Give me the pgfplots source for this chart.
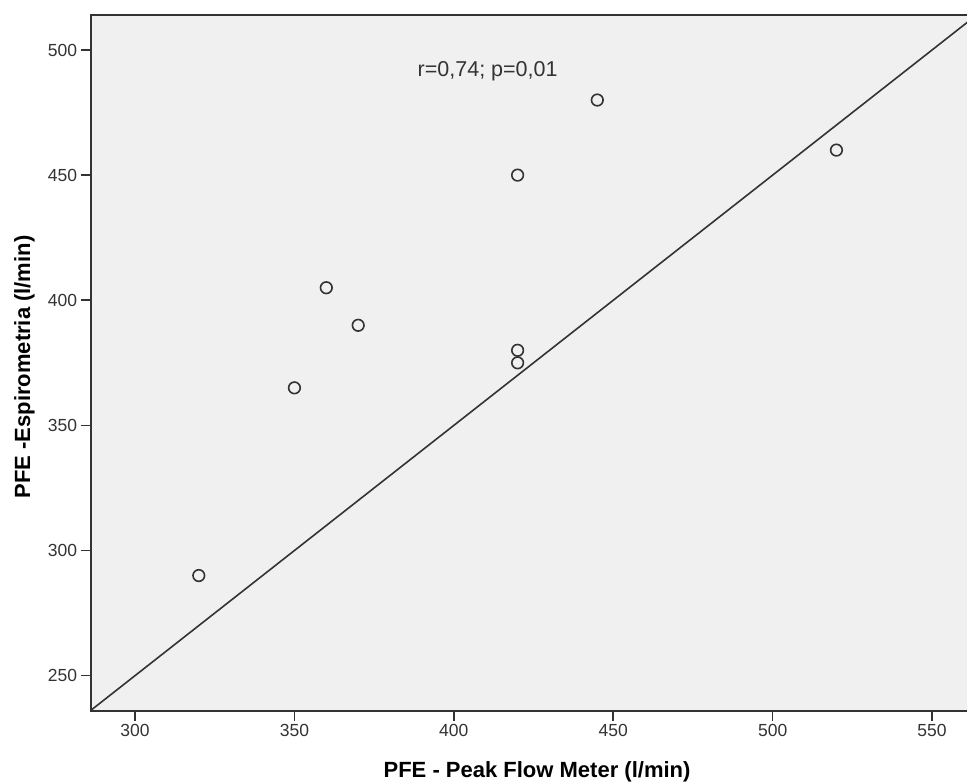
\documentclass[border=0pt]{standalone}
\usepackage{fontspec}
\setmainfont{Liberation Sans}
\usepackage{pgfplots}
\pgfplotsset{compat=1.18}
\definecolor{bgc}{HTML}{F0F0F0}
\definecolor{dk}{HTML}{333333}
\begin{document}
\begin{tikzpicture}
\path[use as bounding box] (0,0) rectangle (967bp,782bp);
\begin{axis}[
 at={(90.7bp,71.3bp)}, anchor=south west,
 scale only axis, width=879.3bp, height=696bp,
 xmin=286.1, xmax=561.9, ymin=236, ymax=514.1,
 axis background/.style={fill=bgc},
 axis line style={draw=dk, line width=1.8bp},
 xtick={300,350,...,550}, ytick={250,300,...,500},
 tick align=outside, major tick length=10bp,
 tick style={draw=dk, line width=1.6bp},
 xtick pos=bottom, ytick pos=left,
 ticklabel style={font=\fontsize{17.5bp}{20bp}\selectfont, text=dk},
 /pgf/number format/assume math mode=true,
 xlabel={PFE - Peak Flow Meter (l/min)},
 ylabel={PFE -Espirometria (l/min)},
 label style={font=\bfseries\fontsize{22bp}{26bp}\selectfont, text=black},
 xlabel style={at={(axis description cs:0.5076,-0.09569)}, anchor=base},
 ylabel style={at={(axis description cs:-0.06903,0.4938)}, anchor=base},
]
\addplot[dk, line width=1.6bp] coordinates {(286.1,236.1) (561.9,511.9)};
\addplot[only marks, mark=o, mark size=5.8bp, mark options={draw=dk, line width=1.6bp}] coordinates {
(320,290) (350,365) (360,405) (370,390) (420,450) (420,380) (420,375) (445,480) (520,460)};
\node[anchor=base, font=\fontsize{21.5bp}{24bp}\selectfont, text=dk] at (axis cs:410.6,489.6) {r=0,74; p=0,01};
\end{axis}
\end{tikzpicture}
\end{document}
